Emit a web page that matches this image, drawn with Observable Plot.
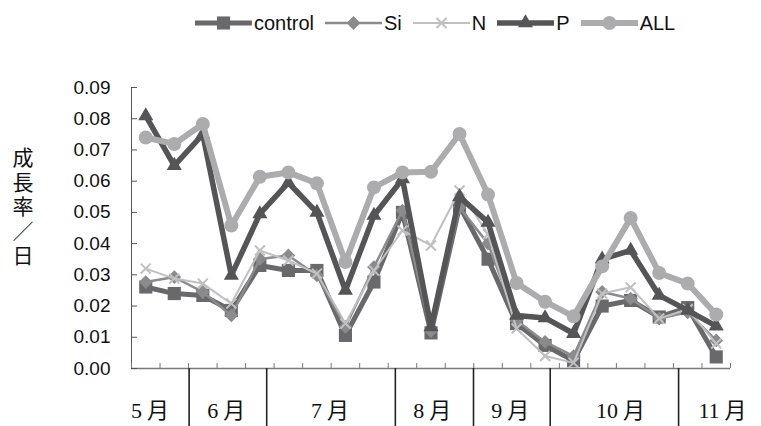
<!DOCTYPE html>
<html><head><meta charset="utf-8">
<script src="https://cdn.jsdelivr.net/npm/d3@7"></script>
<script src="https://cdn.jsdelivr.net/npm/@observablehq/plot@0.6"></script>
<style>
body{margin:0;background:#fff;}
#wrap{position:relative;width:761px;height:426px;overflow:hidden;background:#fff;}
#legend{height:46px;display:flex;align-items:center;padding-left:195px;gap:11px;font-family:"Liberation Sans",Arial,sans-serif;font-size:20px;color:#111;box-sizing:border-box;}
.item{display:flex;align-items:center;}
.item svg{display:block;margin-right:2px}
#ytitle{position:absolute;left:11px;top:147px;writing-mode:vertical-rl;text-orientation:upright;font-family:"Noto Sans CJK JP",sans-serif;font-size:21px;letter-spacing:3.5px;line-height:24px;color:#111}
</style></head><body>
<div id="wrap"><div id="legend"></div><div id="ytitle"></div><div id="chart"></div></div>
<script>
// ---- data ----
const seriesNames = ["control", "Si", "N", "P", "ALL"];
const control = [0.0261, 0.0240, 0.0234, 0.0186, 0.0330, 0.0314, 0.0314, 0.0106, 0.0277, 0.0500, 0.0114, 0.0520, 0.0350, 0.0144, 0.0074, 0.0025, 0.0200, 0.0218, 0.0165, 0.0195, 0.0037];
const Si      = [0.0277, 0.0293, 0.0245, 0.0170, 0.0351, 0.0362, 0.0298, 0.0133, 0.0325, 0.0506, 0.0120, 0.0516, 0.0400, 0.0154, 0.0085, 0.0040, 0.0245, 0.0224, 0.0160, 0.0180, 0.0090];
const N       = [0.0320, 0.0288, 0.0272, 0.0208, 0.0378, 0.0346, 0.0304, 0.0144, 0.0314, 0.0442, 0.0394, 0.0570, 0.0430, 0.0128, 0.0040, 0.0018, 0.0240, 0.0260, 0.0160, 0.0190, 0.0080];
const P       = [0.0809, 0.0650, 0.0750, 0.0298, 0.0495, 0.0595, 0.0500, 0.0250, 0.0490, 0.0607, 0.0133, 0.0550, 0.0468, 0.0170, 0.0162, 0.0112, 0.0350, 0.0378, 0.0234, 0.0186, 0.0136];
const ALL     = [0.0740, 0.0719, 0.0783, 0.0458, 0.0614, 0.0628, 0.0593, 0.0341, 0.0580, 0.0628, 0.0630, 0.0751, 0.0557, 0.0274, 0.0214, 0.0167, 0.0327, 0.0482, 0.0306, 0.0272, 0.0173];
const months = ["5月", "6月", "7月", "8月", "9月", "10月", "11月"];
const monthLabelAt = [0.15, 2.82, 6.46, 10.04, 12.78, 16.64, 20.22];   // in observation-index units
const monthBoundaries = [1.52, 4.24, 8.75, 11.49, 14.18, 18.68];      // in observation-index units
const yTicks = [0, 0.01, 0.02, 0.03, 0.04, 0.05, 0.06, 0.07, 0.08, 0.09];
const yTitle = "成長率／日";

// ---- styles ----
const valuesBy = {control, Si, N, P, ALL};
const styles = {
  control: {color: "#69696b", width: 5,   symbol: "square",   r: 7.4},
  Si:      {color: "#8b8b8d", width: 2.5, symbol: "diamond2", r: 6.2},
  N:       {color: "#c0c0c2", width: 2,   symbol: "times",    r: 4.6},
  P:       {color: "#555557", width: 5.5, symbol: "triangle", r: 5.6},
  ALL:     {color: "#acacae", width: 6,   symbol: "circle",   r: 7}
};
const d3sym = {square: d3.symbolSquare, diamond2: d3.symbolDiamond2, times: d3.symbolTimes, triangle: d3.symbolTriangle, circle: d3.symbolCircle};

const n = control.length;
const xDomain = [-0.5, n - 0.5];
const W = 761, H = 380, mt = 41, mb = 58, ml = 131, mr = 31;
const frameW = W - ml - mr, frameH = H - mt - mb;

// ---- legend ----
const legend = document.getElementById("legend");
for (const name of seriesNames) {
  const s = styles[name];
  const item = document.createElement("div");
  item.className = "item";
  const sv = d3.create("svg").attr("width", 57).attr("height", 20);
  sv.append("line").attr("x1", 0).attr("x2", 57).attr("y1", 10).attr("y2", 10)
    .attr("stroke", s.color).attr("stroke-width", s.width).attr("stroke-linecap", "round");
  const p = sv.append("path").attr("transform", "translate(28.5,10)")
    .attr("d", d3.symbol(d3sym[s.symbol], Math.PI * s.r * s.r)());
  if (s.symbol === "times") p.attr("fill", "none").attr("stroke", s.color).attr("stroke-width", 2);
  else p.attr("fill", s.color);
  item.appendChild(sv.node());
  const t = document.createElement("span");
  t.textContent = name;
  item.appendChild(t);
  legend.appendChild(item);
}

// ---- y title ----
document.getElementById("ytitle").textContent = yTitle;

// ---- chart ----
const marks = [
  Plot.ruleY([0], {stroke: "#7a7a7a", strokeWidth: 1.5}),
  Plot.ruleX([xDomain[0]], {stroke: "#555", strokeWidth: 1}),
  Plot.tickX(d3.range(n + 1).map(i => i - 0.5), {x: d => d, stroke: "#777", insetTop: frameH - 5}),
  Plot.tickY(yTicks, {y: d => d, stroke: "#555", insetRight: frameW - 6}),
  Plot.ruleX(monthBoundaries, {x: d => d, y1: 0, y2: -0.03, stroke: "#222", strokeWidth: 1.6}),
  Plot.text(months, {x: (d, i) => monthLabelAt[i], y: 0, dy: 42, text: d => d, fontSize: 22,
    fontFamily: "Liberation Serif, Noto Sans CJK JP, serif", fill: "#111", lineAnchor: "middle"})
];
for (const name of seriesNames) {
  const s = styles[name];
  const rows = valuesBy[name].map((v, i) => ({i, v}));
  marks.push(Plot.line(rows, {x: "i", y: "v", stroke: s.color, strokeWidth: s.width, strokeLinejoin: "round", strokeLinecap: "round"}));
  if (s.symbol === "times")
    marks.push(Plot.dot(rows, {x: "i", y: "v", symbol: s.symbol, r: s.r, stroke: s.color, strokeWidth: 2, fill: "none"}));
  else
    marks.push(Plot.dot(rows, {x: "i", y: "v", symbol: s.symbol, r: s.r, fill: s.color, stroke: "none"}));
}
marks.push(Plot.axisY(yTicks, {tickSize: 0, tickPadding: 21, tickFormat: d3.format(".2f"), fontSize: 19, fill: "#111", label: null}));

const chart = Plot.plot({
  width: W, height: H,
  marginTop: mt, marginBottom: mb, marginLeft: ml, marginRight: mr,
  style: {fontFamily: "'Liberation Sans', Arial, sans-serif", background: "#fff", overflow: "visible"},
  x: {domain: xDomain, axis: null},
  y: {domain: [0, 0.09], label: null},
  marks
});
// small gap between the numeral and 月, as in the original
d3.select(chart).selectAll("text").filter(function () { return /月$/.test(this.textContent); })
  .each(function () {
    const txt = this.textContent;
    const num = txt.slice(0, -1);
    const sel = d3.select(this);
    sel.text(null);
    sel.append("tspan").text(num);
    sel.append("tspan").attr("dx", 5).text("月");
  });
document.getElementById("chart").appendChild(chart);
</script>
</body></html>
